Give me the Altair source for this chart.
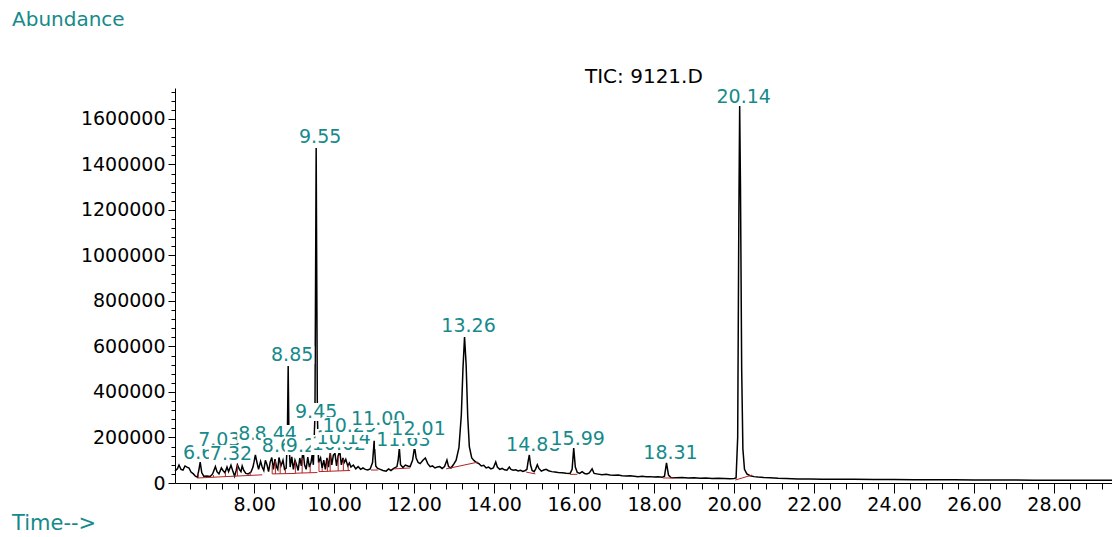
import altair as alt
import pandas as pd

# ---- TIC trace: retention time (min) and abundance ----
RT = [
    6.02, 6.08, 6.12, 6.17, 6.22, 6.27, 6.32, 6.37, 6.42, 6.48, 6.53, 6.58, 6.62, 6.65, 6.69, 6.74,
    6.82, 6.90, 6.96, 7.03, 7.07, 7.12, 7.18, 7.22, 7.27, 7.32, 7.36, 7.42, 7.47, 7.51, 7.55, 7.58,
    7.63, 7.67, 7.70, 7.74, 7.79, 7.85, 7.92, 7.97, 8.03, 8.07, 8.11, 8.16, 8.20, 8.24, 8.28, 8.32,
    8.36, 8.40, 8.44, 8.48, 8.52, 8.56, 8.59, 8.62, 8.67, 8.72, 8.76, 8.80, 8.83, 8.85, 8.87, 8.90,
    8.94, 8.98, 9.02, 9.06, 9.10, 9.14, 9.18, 9.22, 9.26, 9.30, 9.34, 9.38, 9.42, 9.45, 9.48, 9.52,
    9.55, 9.58, 9.61, 9.66, 9.70, 9.74, 9.78, 9.82, 9.86, 9.90, 9.94, 9.98, 10.02, 10.06, 10.10, 10.14,
    10.18, 10.22, 10.25, 10.29, 10.34, 10.38, 10.42, 10.48, 10.54, 10.60, 10.66, 10.72, 10.78, 10.84,
    10.90, 10.96, 11.00, 11.04, 11.08, 11.15, 11.22, 11.30, 11.36, 11.42, 11.50, 11.57, 11.60, 11.63,
    11.66, 11.72, 11.78, 11.84, 11.90, 11.96, 12.01, 12.05, 12.10, 12.15, 12.22, 12.28, 12.34, 12.40,
    12.46, 12.52, 12.58, 12.64, 12.70, 12.76, 12.82, 12.86, 12.92, 12.98, 13.05, 13.12, 13.18, 13.22,
    13.26, 13.30, 13.34, 13.38, 13.44, 13.50, 13.56, 13.62, 13.68, 13.74, 13.80, 13.86, 13.92, 13.98,
    14.04, 14.08, 14.14, 14.20, 14.26, 14.32, 14.38, 14.42, 14.48, 14.54, 14.60, 14.66, 14.72, 14.78,
    14.82, 14.85, 14.88, 14.91, 14.95, 15.00, 15.04, 15.08, 15.12, 15.18, 15.24, 15.30, 15.36, 15.44,
    15.52, 15.60, 15.70, 15.80, 15.90, 15.95, 15.99, 16.03, 16.08, 16.14, 16.20, 16.26, 16.32, 16.38,
    16.45, 16.50, 16.60, 16.70, 16.80, 16.90, 17.00, 17.10, 17.20, 17.30, 17.40, 17.50, 17.60, 17.70,
    17.80, 17.90, 18.00, 18.10, 18.20, 18.26, 18.31, 18.36, 18.42, 18.55, 18.70, 18.85, 19.00, 19.15,
    19.30, 19.45, 19.60, 19.75, 19.90, 20.00, 20.05, 20.09, 20.12, 20.14, 20.16, 20.19, 20.22, 20.26,
    20.32, 20.40, 20.50, 20.60, 20.75, 20.90, 21.10, 21.30, 21.60, 21.90, 22.20, 22.60, 23.00, 23.50,
    24.00, 24.50, 25.00, 25.50, 26.00, 26.50, 27.00, 27.50, 28.00, 28.50, 29.00, 29.45,
]
ABUND = [
    53000, 62000, 79000, 60000, 57000, 75000, 70000, 66000, 48000, 40000, 30000, 26000, 60000, 92000, 45000, 30000,
    31000, 29000, 40000, 72000, 50000, 40000, 66000, 55000, 45000, 70000, 50000, 78000, 50000, 30000, 55000, 80000,
    60000, 50000, 75000, 55000, 42000, 40000, 48000, 70000, 123000, 90000, 60000, 95000, 70000, 55000, 100000, 80000,
    50000, 92000, 112000, 60000, 105000, 70000, 60000, 112000, 75000, 100000, 60000, 65000, 200000, 514000, 180000, 70000,
    115000, 60000, 100000, 80000, 55000, 110000, 75000, 145000, 80000, 60000, 114000, 70000, 90000, 125000, 80000, 300000,
    1472000, 300000, 90000, 110000, 65000, 101000, 60000, 110000, 70000, 136000, 80000, 123000, 130000, 75000, 120000, 140000,
    80000, 110000, 90000, 104000, 75000, 88000, 70000, 79000, 62000, 72000, 60000, 66000, 60000, 57000,
    62000, 90000, 185000, 75000, 65000, 60000, 55000, 52000, 62000, 55000, 65000, 72000, 100000, 154000,
    80000, 68000, 79000, 75000, 72000, 100000, 158000, 110000, 90000, 85000, 100000, 110000, 85000, 72000,
    75000, 66000, 70000, 72000, 64000, 72000, 101000, 72000, 66000, 80000, 100000, 155000, 300000, 500000,
    642000, 520000, 290000, 160000, 110000, 98000, 90000, 85000, 75000, 78000, 66000, 70000, 62000, 66000,
    92000, 70000, 60000, 64000, 58000, 56000, 70000, 60000, 56000, 58000, 53000, 56000, 51000, 55000,
    60000, 95000, 123000, 80000, 55000, 50000, 62000, 80000, 64000, 52000, 57000, 60000, 54000, 50000,
    48000, 46000, 45000, 43000, 42000, 60000, 154000, 70000, 46000, 42000, 50000, 42000, 40000, 44000,
    62000, 42000, 39000, 36000, 38000, 35000, 34000, 35000, 32000, 31000, 32000, 30000, 28000, 30000,
    27000, 28000, 26000, 27000, 25000, 30000, 88000, 35000, 24000, 23000, 24000, 22000, 23000, 21000,
    22000, 20000, 21000, 20000, 19000, 20000, 22000, 200000, 1200000, 1657000, 1300000, 500000, 150000, 60000,
    40000, 32000, 28000, 26000, 24000, 23000, 21000, 20000, 18000, 18000, 17000, 16000, 16000, 15000,
    15000, 14000, 14000, 14000, 13000, 13000, 13000, 12000, 12000, 12000, 12000, 12000,
]

# ---- labelled peaks: retention time and height of the label baseline ----
PEAK_RT = [6.65, 7.03, 7.32, 8.03, 8.44, 8.62, 8.85, 9.22, 9.45, 9.55, 10.02,
           10.14, 10.29, 11.00, 11.63, 12.01, 13.26, 14.88, 15.99, 18.31, 20.14]
LABEL_LEVEL = [105000, 163000, 101000, 189000, 189000, 136000, 536000, 136000, 286000, 1494000, 145000,
               171000, 224000, 255000, 163000, 211000, 664000, 141000, 167000, 105000, 1670000]

# ---- integration baselines (red) ----
BASE_T1 = [6.58, 8.45, 9.03, 9.62, 10.92, 11.50, 12.80, 14.80, 15.90, 18.22, 20.03]
BASE_A1 = [22000, 40000, 43000, 50000, 57000, 62000, 62000, 48000, 38000, 22000, 13000]
BASE_T2 = [8.20, 9.03, 9.58, 10.40, 11.10, 11.90, 13.60, 15.03, 16.08, 18.52, 20.45]
BASE_A2 = [36000, 42000, 46000, 55000, 57000, 66000, 92000, 40000, 38000, 22000, 35000]

# ---- peak split drop lines (red) ----
DROP_T = [6.60, 6.98, 7.28, 7.58, 7.90, 8.45, 8.53, 8.65, 8.78, 9.03, 9.20, 9.40, 9.62, 9.70,
          9.83, 9.90, 10.10, 10.23, 10.35]
DROP_LO = [22000, 25000, 28000, 31000, 33000, 40000, 40000, 41000, 41000, 42000, 44000, 45000, 50000, 50000,
           51000, 52000, 53000, 54000, 55000]
DROP_HI = [43000, 35000, 48000, 80000, 47000, 80000, 98000, 90000, 62000, 95000, 110000, 77000, 95000, 65000,
           100000, 136000, 120000, 105000, 78000]

# ---- axis ticks ----
X_TICKS = [round(6.4 + 0.4 * k, 1) for k in range(58)]
Y_TICKS = [40000 * k for k in range(44)]

X_DOMAIN = [6.02, 29.45]
Y_DOMAIN = [0, 1736000]
W, H = 937, 395
TEAL = "#168a8a"
RED = "#b22222"
FONT = "DejaVu Sans"
LABEL_FS = 19
TICK_FS = 19

x_scale = alt.Scale(domain=X_DOMAIN, nice=False, zero=False)
y_scale = alt.Scale(domain=Y_DOMAIN, nice=False, zero=False)

major_x = "abs(datum.value / 2 - round(datum.value / 2)) < 0.001"
major_y = "datum.value % 200000 == 0"

x_axis = alt.Axis(
    values=X_TICKS, title=None, grid=False, orient="bottom",
    labelExpr=f"{major_x} ? format(datum.value, '.2f') : ''",
    tickSize={"condition": {"test": major_x, "value": 10}, "value": 6},
    labelPadding=2, labelOverlap=False, labelFlush=False, labelBound=False,
    labelFont=FONT, labelFontSize=TICK_FS, labelColor="black",
    domainColor="black", tickColor="black", domainWidth=1, tickWidth=1,
)
y_axis = alt.Axis(
    values=Y_TICKS, title=None, grid=False, orient="left",
    labelExpr=f"{major_y} ? format(datum.value, 'd') : ''",
    tickSize={"condition": {"test": major_y, "value": 7}, "value": 4},
    labelPadding=3, labelOverlap=False, labelFlush=False, labelBound=False,
    labelFont=FONT, labelFontSize=TICK_FS, labelColor="black",
    domainColor="black", tickColor="black", domainWidth=1, tickWidth=1,
)


def xq(field):
    return alt.X(field, type="quantitative", scale=x_scale, axis=x_axis)


def yq(field):
    return alt.Y(field, type="quantitative", scale=y_scale, axis=y_axis)


trace_df = pd.DataFrame({"rt": RT, "abund": ABUND})
trace = alt.Chart(trace_df).mark_line(color="black", strokeWidth=1.5, interpolate="linear").encode(
    x=xq("rt"), y=yq("abund"),
)

base_df = pd.DataFrame({"t1": BASE_T1, "a1": BASE_A1, "t2": BASE_T2, "a2": BASE_A2})
baselines = alt.Chart(base_df).mark_rule(color=RED, strokeWidth=1).encode(
    x=xq("t1"), x2="t2:Q", y=yq("a1"), y2="a2:Q",
)

drop_df = pd.DataFrame({"t": DROP_T, "lo": DROP_LO, "hi": DROP_HI})
drops = alt.Chart(drop_df).mark_rule(color=RED, strokeWidth=1).encode(
    x=xq("t"), y=yq("lo"), y2="hi:Q",
)

# each label sits on its own white box, drawn in retention-time order so later boxes hide earlier text
px_per_min = W / (X_DOMAIN[1] - X_DOMAIN[0])
units_per_px = Y_DOMAIN[1] / H


def text_width(s):
    return sum(0.318 if c == "." else 0.636 for c in s) * LABEL_FS


label_layers = []
for rt, lvl in zip(PEAK_RT, LABEL_LEVEL):
    txt = f"{rt:.2f}"
    w = text_width(txt) + 2
    cx = rt + 4 / px_per_min
    row = pd.DataFrame({
        "rt": [rt], "txt": [txt], "lvl": [lvl],
        "x1": [cx - w / 2 / px_per_min], "x2": [cx + w / 2 / px_per_min],
        "y1": [lvl - 3 * units_per_px], "y2": [lvl + 15 * units_per_px],
    })
    box = alt.Chart(row).mark_rect(color="white").encode(
        x=xq("x1"), x2="x2:Q", y=yq("y1"), y2="y2:Q",
    )
    lab = alt.Chart(row).mark_text(
        color=TEAL, font=FONT, fontSize=LABEL_FS, align="center", baseline="alphabetic", dx=4,
    ).encode(x=xq("rt"), y=yq("lvl"), text="txt:N")
    label_layers += [box, lab]


def caption(text, x, y, color, size):
    return alt.Chart(pd.DataFrame({"s": [text]})).mark_text(
        color=color, font=FONT, fontSize=size, align="left", baseline="alphabetic",
    ).encode(x=alt.value(x), y=alt.value(y), text="s:N")


captions = [
    caption("Abundance", -163, -62, TEAL, 20),
    caption("TIC: 9121.D", 410, -5, "black", 20),
    caption("Time-->", -163, 442, TEAL, 21),
]

chart = alt.layer(trace, baselines, drops, *label_layers, *captions).properties(
    width=W, height=H,
    autosize=alt.AutoSizeParams(type="none"),
    padding={"left": 175, "top": 88, "right": 0, "bottom": 54},
).configure_view(stroke=None)

chart.save("out.html", embed_options={"renderer": "svg", "actions": False})
